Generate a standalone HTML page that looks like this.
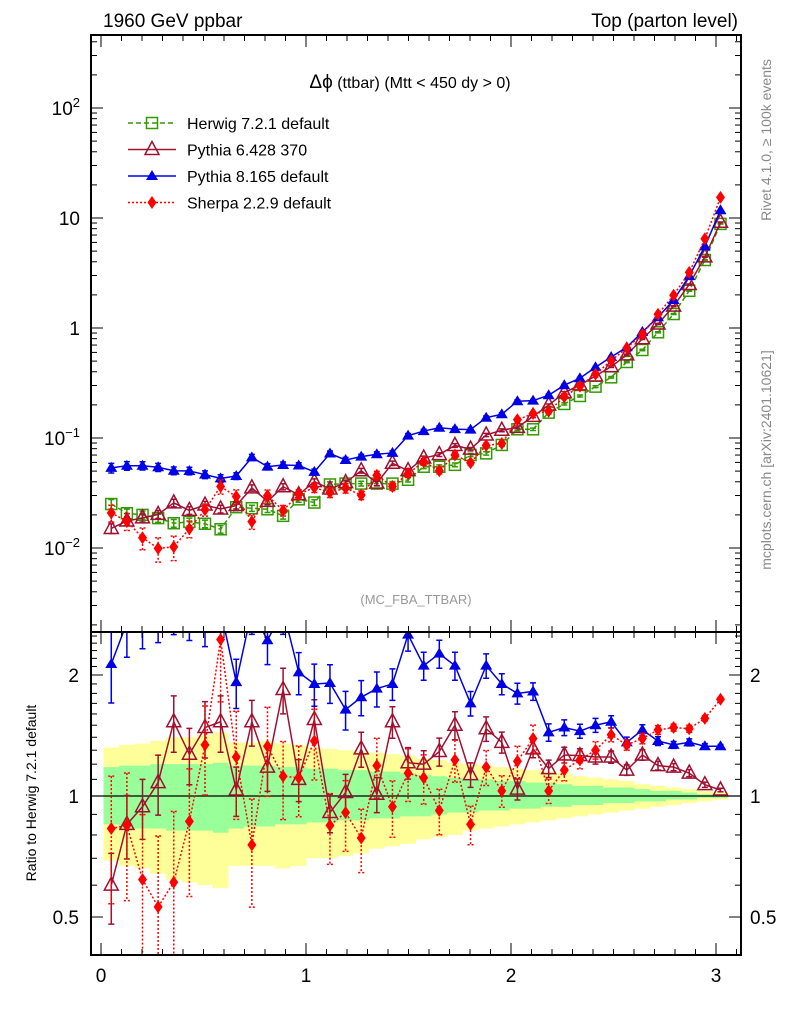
<!DOCTYPE html>
<html><head><meta charset="utf-8">
<style>
html,body{margin:0;padding:0;background:#fff;}
svg{display:block;font-family:"Liberation Sans",Arial,sans-serif;}
</style></head>
<body>
<svg id="chart" width="786" height="1024" viewBox="0 0 786 1024" xmlns="http://www.w3.org/2000/svg">
<defs>
<clipPath id="clipMain"><rect x="91" y="35" width="650" height="597"/></clipPath>
<clipPath id="clipRatio"><rect x="91" y="632" width="650" height="323"/></clipPath>
</defs>
<g id="bands" clip-path="url(#clipRatio)"></g>
<g id="mainMarks" clip-path="url(#clipMain)"></g>
<g id="ratioMarks" clip-path="url(#clipRatio)"></g>
<g id="axes"></g>
<text x="103" y="27" font-size="19">1960 GeV ppbar</text>
<text x="738" y="27" font-size="19" text-anchor="end">Top (parton level)</text>
<text x="410" y="88" font-size="16" text-anchor="middle"><tspan font-size="19">Δϕ</tspan> (ttbar) (Mtt &lt; 450 dy &gt; 0)</text>
<text x="416" y="604" font-size="13" fill="#999" text-anchor="middle">(MC_FBA_TTBAR)</text>
<text transform="translate(771,140) rotate(-90)" font-size="14" fill="#888" text-anchor="middle">Rivet 4.1.0, ≥ 100k events</text>
<text transform="translate(771,460) rotate(-90)" font-size="14" fill="#888" text-anchor="middle">mcplots.cern.ch [arXiv:2401.10621]</text>
<text transform="translate(36,793) rotate(-90)" font-size="14" text-anchor="middle">Ratio to Herwig 7.2.1 default</text>
<g id="legend"></g>
</svg>
<script>
// ---- data ----
const nBins = 40;
const xLo = 0.012;
const binW = 0.0762;
const herwig = [0.0251,0.0207,0.0200,0.0187,0.0168,0.0173,0.0166,0.0148,0.0235,0.0230,0.0225,0.0196,0.0277,0.0259,0.0378,0.0385,0.0385,0.0385,0.0385,0.0417,0.0548,0.0548,0.0570,0.0701,0.0725,0.0865,0.120,0.120,0.170,0.204,0.241,0.293,0.356,0.491,0.631,0.914,1.34,2.18,4.15,8.84];
const ratioP6 = [0.60,0.85,0.94,1.08,1.53,1.27,1.48,1.53,1.035,1.53,1.18,1.84,1.10,1.55,0.91,1.02,1.31,1.01,1.53,1.21,1.20,1.29,1.50,1.13,1.47,1.36,1.04,1.31,1.17,1.265,1.26,1.25,1.25,1.16,1.265,1.19,1.18,1.14,1.067,1.035];
const ratioP8 = [2.13,2.7,2.8,2.9,3.0,2.9,2.8,2.9,1.92,2.9,2.44,2.9,2.03,1.90,1.91,1.64,1.76,1.85,1.90,2.52,2.11,2.26,2.11,1.70,2.11,1.90,1.80,1.82,1.44,1.48,1.45,1.50,1.53,1.36,1.46,1.37,1.34,1.36,1.33,1.33];
const ratioSh = [0.83,0.845,0.62,0.53,0.61,0.865,1.34,2.45,1.25,0.756,1.33,1.12,1.11,1.37,0.845,0.91,0.786,1.19,0.94,1.14,1.11,0.92,1.23,0.85,1.18,1.03,1.22,1.39,1.03,1.16,1.23,1.30,1.42,1.34,1.39,1.46,1.48,1.47,1.56,1.74];
const errMC = [0.20,0.18,0.17,0.17,0.16,0.16,0.16,0.16,0.14,0.13,0.13,0.13,0.12,0.12,0.11,0.11,0.10,0.10,0.09,0.09,0.08,0.08,0.08,0.07,0.07,0.06,0.06,0.05,0.05,0.045,0.04,0.04,0.035,0.03,0.03,0.025,0.02,0.02,0.015,0.01];
const errSh = [0.35,0.35,0.45,0.5,0.5,0.35,0.25,0.3,0.3,0.3,0.25,0.22,0.2,0.2,0.2,0.2,0.18,0.17,0.16,0.15,0.14,0.13,0.12,0.11,0.10,0.09,0.09,0.08,0.07,0.06,0.05,0.05,0.04,0.03,0.03,0.025,0.02,0.02,0.015,0.01];
const greenUp = [1.18,1.19,1.19,1.20,1.20,1.20,1.20,1.21,1.19,1.19,1.19,1.18,1.18,1.17,1.17,1.16,1.16,1.15,1.15,1.14,1.13,1.12,1.11,1.10,1.10,1.09,1.09,1.08,1.08,1.07,1.06,1.06,1.05,1.05,1.04,1.03,1.03,1.02,1.01,1.01];
const greenDn = [0.85,0.83,0.83,0.83,0.82,0.82,0.82,0.81,0.83,0.84,0.84,0.85,0.85,0.86,0.86,0.87,0.87,0.88,0.88,0.89,0.89,0.90,0.91,0.91,0.92,0.92,0.93,0.93,0.94,0.94,0.95,0.95,0.96,0.96,0.97,0.97,0.98,0.98,0.99,0.99];
const yellowUp = [1.32,1.34,1.35,1.37,1.40,1.40,1.42,1.44,1.36,1.36,1.37,1.35,1.34,1.32,1.31,1.30,1.29,1.28,1.27,1.26,1.24,1.23,1.21,1.20,1.19,1.18,1.17,1.16,1.15,1.14,1.12,1.11,1.10,1.09,1.07,1.06,1.05,1.04,1.03,1.02];
const yellowDn = [0.69,0.67,0.66,0.64,0.62,0.61,0.60,0.59,0.67,0.67,0.67,0.66,0.67,0.70,0.70,0.71,0.72,0.74,0.75,0.76,0.78,0.79,0.80,0.82,0.83,0.84,0.85,0.86,0.87,0.88,0.89,0.90,0.91,0.92,0.93,0.94,0.95,0.96,0.97,0.98];
const xTicks = [0,1,2,3];
const ratioTicks = [0.5,1,2];

// ---- axes functions ----
const NS = "http://www.w3.org/2000/svg";
const X0 = 101, XS = 205;
const L = 91, R = 741, TOP = 35, MID = 632, BOT = 955;
function xp(v){ return X0 + v*XS; }
function ym(v){ return 328 - 110*Math.log10(v); }
function yr(v){ return 796 - 402*Math.log10(v); }
function mk(tag, attrs, parent){
  const e = document.createElementNS(NS, tag);
  for (const k in attrs) e.setAttribute(k, attrs[k]);
  parent.appendChild(e); return e;
}
const centers = [];
for (let i=0;i<nBins;i++) centers.push(xLo + (i+0.5)*binW);
function edge(i){ return xLo + i*binW; }

// bands
const gB = document.getElementById('bands');
function band(up, dn, color, name){
  let top = '', bot = '';
  for (let i=0;i<nBins;i++){
    const a = xp(edge(i)), b = xp(edge(i+1));
    top += (i===0?'M':'L') + a + ',' + yr(up[i]) + 'L' + b + ',' + yr(up[i]);
  }
  for (let i=nBins-1;i>=0;i--){
    const a = xp(edge(i)), b = xp(edge(i+1));
    bot += 'L' + b + ',' + yr(dn[i]) + 'L' + a + ',' + yr(dn[i]);
  }
  const p = mk('path', {d: top + bot + 'Z', fill: color}, gB);
  
  
}
band(yellowUp, yellowDn, '#ffff99', 'syst-band');
band(greenUp, greenDn, '#99ff99', 'stat-band');
const refLine = mk('line', {x1:L, x2:R, y1:yr(1), y2:yr(1), stroke:'#000', 'stroke-width':1.2}, gB);



// series
const series = [
  {name:'herwig', color:'#339900', dash:'5,3', marker:'sq', vals: herwig.slice(), ratio: herwig.map(()=>1), err: errMC},
  {name:'pythia6', color:'#a01030', dash:'', marker:'tri-open', vals: herwig.map((h,i)=>h*ratioP6[i]), ratio: ratioP6, err: errMC},
  {name:'pythia8', color:'#0000e6', dash:'', marker:'tri', vals: herwig.map((h,i)=>h*ratioP8[i]), ratio: ratioP8, err: errMC},
  {name:'sherpa', color:'#ff0000', dash:'2,2', marker:'dia', vals: herwig.map((h,i)=>h*ratioSh[i]), ratio: ratioSh, err: errSh}
];

function marker(g, type, x, y, color){
  let e;
  if (type==='sq') e = mk('rect', {x:x-5.5, y:y-5.5, width:11, height:11, fill:'none', stroke:color, 'stroke-width':1.5}, g);
  else if (type==='tri-open') e = mk('path', {d:`M${x},${y-8}L${x+7},${y+5}L${x-7},${y+5}Z`, fill:'none', stroke:color, 'stroke-width':1.5}, g);
  else if (type==='tri') e = mk('path', {d:`M${x},${y-6}L${x+6},${y+4}L${x-6},${y+4}Z`, fill:color}, g);
  else e = mk('path', {d:`M${x},${y-6.5}L${x+4.5},${y}L${x},${y+6.5}L${x-4.5},${y}Z`, fill:color}, g);
  return e;
}

function drawSeries(parent, s, yf, vals, rel){
  const g = mk('g', {}, parent);
  
  
  let d = '';
  vals.forEach((v,i)=>{ d += (i?'L':'M') + xp(centers[i]) + ',' + yf(v); });
  const ln = mk('path', {d:d, fill:'none', stroke:s.color, 'stroke-width':1.5, 'stroke-dasharray':s.dash}, g);
  
  
  vals.forEach((v,i)=>{
    const x = xp(centers[i]);
    const e = rel ? s.err[i] : s.err[i]*0.5;
    const hi = yf(v*(1+e)), lo = yf(Math.max(v*(1-e), v*0.3));
    const eb = mk('path', {d:`M${x},${hi}L${x},${lo}M${x-3},${hi}L${x+3},${hi}M${x-3},${lo}L${x+3},${lo}`, stroke:s.color, 'stroke-width':1.5, fill:'none', 'stroke-dasharray': s.name==='sherpa'?'2,2':''}, g);
    
    
    const m = marker(g, s.marker, x, yf(v), s.color);
    
    
  });
}
const gM = document.getElementById('mainMarks');
const gR = document.getElementById('ratioMarks');
series.forEach(s=>drawSeries(gM, s, ym, s.vals, false));
series.slice(1).forEach(s=>drawSeries(gR, s, yr, s.ratio, true));

// axes
const gA = document.getElementById('axes');
function line(x1,y1,x2,y2,w,name){
  const e = mk('line', {x1:x1,y1:y1,x2:x2,y2:y2,stroke:'#000','stroke-width':w||1}, gA);
  
  
}
function txt(x,y,s,anchor,size,name){
  const e = mk('text', {x:x,y:y,'font-size':size||19,'text-anchor':anchor||'middle'}, gA);
  e.textContent = s;
  
  
  return e;
}
const fr1 = mk('rect', {x:L,y:TOP,width:R-L,height:MID-TOP,fill:'none',stroke:'#000','stroke-width':2}, gA);
 
const fr2 = mk('rect', {x:L,y:MID,width:R-L,height:BOT-MID,fill:'none',stroke:'#000','stroke-width':2}, gA);
 
// x ticks
for (let k=0; k<=31; k++){
  const v = k/10;
  const x = xp(v); const major = (k%10===0);
  const len = major?12:6;
  [TOP, MID].forEach(y=>line(x,y,x,y+len,1,'x-tick'));
  [MID, BOT].forEach(y=>line(x,y,x,y-len,1,'x-tick'));
}
xTicks.forEach(v=>txt(xp(v), 982, String(v), 'middle', 19, 'x-tick-label'));
// main log y ticks
for (let p=-3;p<=2;p++){
  for (let k=1;k<10;k++){
    const v = k*Math.pow(10,p); const y = ym(v);
    if (y<TOP || y>MID) continue;
    const len = k===1?12:6;
    line(L,y,L+len,y,1,'y-tick'); line(R,y,R-len,y,1,'y-tick');
  }
}
function supLabel(y, base, exp){
  const t = txt(80, y+7, '', 'end', 19, 'y-tick-label');
  const a = mk('tspan', {}, t); a.textContent = base;
  if (exp){ const b = mk('tspan', {dy:-8,'font-size':13}, t); b.textContent = exp; }
}
supLabel(ym(100), '10', '2');
supLabel(ym(10), '10', '');
supLabel(ym(1), '1', '');
supLabel(ym(0.1), '10', '−1');
supLabel(ym(0.01), '10', '−2');
// ratio ticks
[0.4,0.5,0.6,0.7,0.8,0.9,1,1.1,1.2,1.3,1.4,1.5,1.6,1.7,1.8,1.9,2,2.1,2.2,2.3,2.4,2.5].forEach(v=>{
  const y = yr(v); if (y<MID||y>BOT) return;
  const len = ratioTicks.includes(v)?12:6;
  line(L,y,L+len,y,1,'ratio-tick'); line(R,y,R-len,y,1,'ratio-tick');
});
ratioTicks.forEach(v=>{
  txt(79, yr(v)+7, String(v), 'end', 19, 'ratio-tick-label');
  txt(750, yr(v)+7, String(v), 'start', 19, 'ratio-tick-label-right');
});

// legend
const gL = document.getElementById('legend');
const names = ['Herwig 7.2.1 default','Pythia 6.428 370','Pythia 8.165 default','Sherpa 2.2.9 default'];
series.forEach((s,i)=>{
  const y = 123 + i*26.5;
  const g = mk('g', {}, gL);
  
  
  mk('line', {x1:128,x2:176,y1:y,y2:y,stroke:s.color,'stroke-width':1.5,'stroke-dasharray':s.dash}, g);
  marker(g, s.marker, 152, y, s.color);
  const t = mk('text', {x:187, y:y+6, 'font-size':16}, g);
  t.textContent = names[i];
});
</script>
</body></html>
